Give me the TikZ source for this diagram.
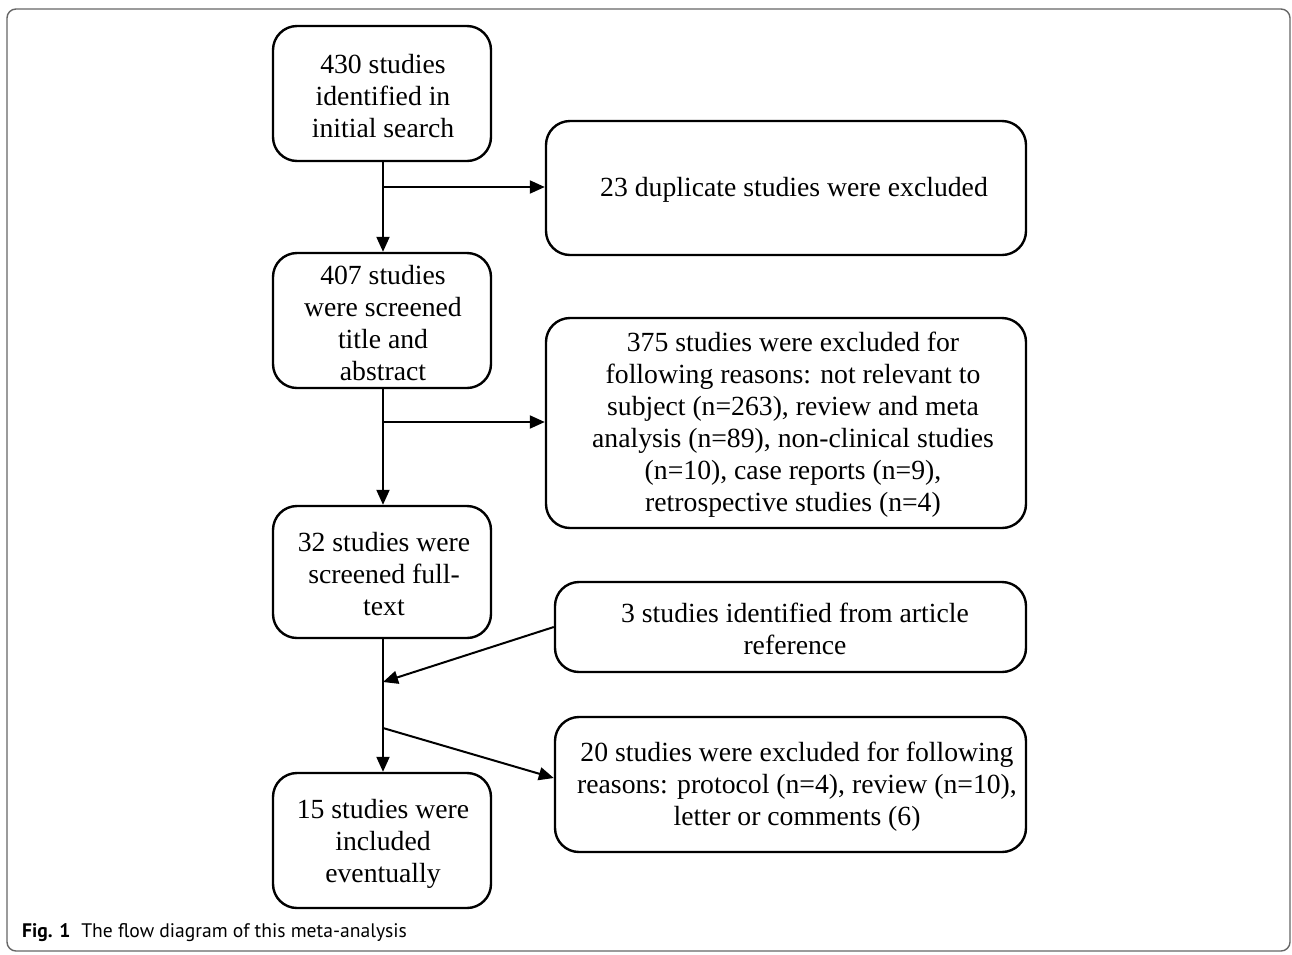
\documentclass[tikz,border=0pt]{standalone}
\usepackage{fontspec}
\setmainfont{Liberation Serif}
\newfontfamily\capfont{PT Sans}
\usetikzlibrary{arrows.meta}
\begin{document}
\begin{tikzpicture}[x=1pt,y=-1pt,
  box/.style={draw=black,line width=2.4pt,rounded corners=24pt,inner sep=0pt},
  txt/.style={align=center,inner sep=0pt,font=\fontsize{27.7}{32}\selectfont,yshift=-3pt},
  arr/.style={line width=2pt,-{Triangle[length=15pt,width=13pt]}},
  ln/.style={line width=2pt}]
\useasboundingbox (0,0) rectangle (1292,954);
\draw[draw=black!60,line width=1.4pt,rounded corners=9pt] (7,9) rectangle (1290,951);
% boxes
\node[box,minimum width=218pt,minimum height=135pt] (A) at (382,93.5) {};
\node[txt] (At) at (383,93) {430 studies\\identified in\\initial search};
\node[box,minimum width=480pt,minimum height=134pt] (B) at (786,188) {};
\node[txt] (Bt) at (794,187) {23 duplicate studies were excluded};
\node[box,minimum width=218pt,minimum height=135pt] (C) at (382,320.5) {};
\node[txt] (Ct) at (383,320) {407 studies\\were screened\\title and\\abstract};
\node[box,minimum width=480pt,minimum height=210pt] (D) at (786,423) {};
\node[txt] (Dt) at (793,422) {375 studies were excluded for\\following reasons: not relevant to\\subject (n=263), review and meta\\analysis (n=89), non-clinical studies\\(n=10), case reports (n=9),\\retrospective studies (n=4)};
\node[box,minimum width=218pt,minimum height=132pt] (E) at (382,572) {};
\node[txt] (Et) at (384,571) {32 studies were\\screened full-\\text};
\node[box,minimum width=471pt,minimum height=90pt] (F) at (790.5,627) {};
\node[txt] (Ft) at (795,626) {3 studies identified from article\\reference};
\node[box,minimum width=471pt,minimum height=135pt] (G) at (790.5,784.5) {};
\node[txt] (Gt) at (797,784) {20 studies were excluded for following\\reasons: protocol (n=4), review (n=10),\\letter or comments (6)};
\node[box,minimum width=218pt,minimum height=135pt] (H) at (382,840.5) {};
\node[txt] (Ht) at (383,841) {15 studies were\\included\\eventually};
% connectors
\coordinate (j1) at (383,187);
\coordinate (j2) at (383,422);
\coordinate (j3) at (383,682);
\coordinate (j4) at (383,728);
\draw[arr] (A.south -| j1) -- (C.north -| j1);
\draw[arr] (j1) -- (B.west |- j1);
\draw[arr] (C.south -| j2) -- (E.north -| j2);
\draw[arr] (j2) -- (D.west |- j2);
\draw[arr] (E.south -| j3) -- (H.north -| j3);
\draw[arr] (F.west |- 0,627) -- (j3);
\draw[arr] (j4) -- (G.west |- 0,778);
% caption
\node[anchor=base west,inner sep=0pt,font=\capfont\fontsize{19.6}{24}\selectfont] (cap) at (22,937) {\textbf{Fig. 1}\hspace{0.55em}The flow diagram of this meta-analysis};
\end{tikzpicture}
\end{document}
